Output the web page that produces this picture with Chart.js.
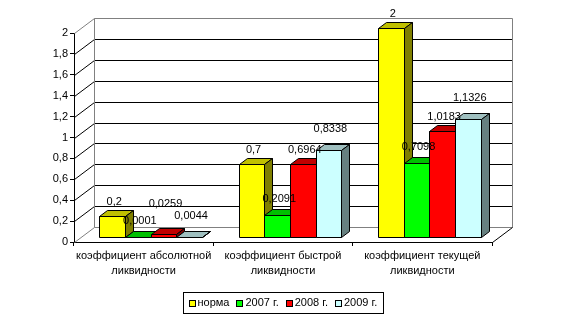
<!DOCTYPE html>
<html><head><meta charset="utf-8">
<script src="https://cdn.jsdelivr.net/npm/chart.js@4.4.1/dist/chart.umd.min.js"></script>
<style>html,body{margin:0;padding:0;background:#fff}#wrap{width:564px;height:325px;position:relative}</style>
</head><body><div id="wrap"><canvas id="c"></canvas></div>
<script>
const categories = [['коэффициент абсолютной','ликвидности'],['коэффициент быстрой','ликвидности'],['коэффициент текущей','ликвидности']];
const seriesNames = ['норма','2007 г.','2008 г.','2009 г.'];
const norma = [0.2, 0.7, 2];
const y2007 = [0.0001, 0.2091, 0.7098];
const y2008 = [0.0259, 0.6964, 1.0183];
const y2009 = [0.0044, 0.8338, 1.1326];
const yTickLabels = ['0','0,2','0,4','0,6','0,8','1','1,2','1,4','1,6','1,8','2'];

const FRONT = ['#FFFF00','#00FF00','#FF0000','#CCFFFF'];
const TOP   = ['#C0C000','#00C000','#C00000','#9FBFBF'];
const SIDE  = ['#808000','#008000','#800000','#668080'];
const LABEL_OFF = [14,16,14,21];
const WALL = {dx:20, dy:-15};
const SHIFT = {dx:7, dy:-5};
const DEPTH = {dx:8, dy:-6};
const FONT = "11px 'Liberation Sans', Arial, sans-serif";
Chart.defaults.font.family = "'Liberation Sans', Arial, sans-serif";
Chart.defaults.font.size = 11;
Chart.defaults.color = '#000';

const fmt = v => String(v).replace('.', ',');

function seg(ctx,x1,y1,x2,y2){ctx.beginPath();ctx.moveTo(x1,y1);ctx.lineTo(x2,y2);ctx.stroke();}
function poly(ctx,pts,fill){ctx.beginPath();ctx.moveTo(pts[0][0],pts[0][1]);for(let i=1;i<pts.length;i++)ctx.lineTo(pts[i][0],pts[i][1]);ctx.closePath();ctx.fillStyle=fill;ctx.fill();ctx.stroke();}

const p3d = {
  id:'p3d',
  beforeDatasetsDraw(chart){
    const ctx=chart.ctx, a=chart.chartArea, ys=chart.scales.y;
    ctx.save(); ctx.lineWidth=1;
    const L=Math.round(a.left)+0.5, R=Math.round(a.right)+0.5;
    ys.ticks.forEach((t,i)=>{
      const y=Math.round(ys.getPixelForValue(t.value))+0.5;
      const by=y+WALL.dy;
      const edge=(i===0||i===ys.ticks.length-1);
      ctx.strokeStyle=edge?'#808080':'#000';
      seg(ctx,L+WALL.dx,by,R+WALL.dx,by);
      seg(ctx,L,y,L+WALL.dx,by);
    });
    const T=Math.round(ys.getPixelForValue(2))+0.5+WALL.dy, B=Math.round(ys.getPixelForValue(0))+0.5+WALL.dy;
    ctx.strokeStyle='#808080';
    seg(ctx,L+WALL.dx,T,L+WALL.dx,B);
    seg(ctx,R+WALL.dx,T,R+WALL.dx,B);
    ctx.strokeStyle='#000';
    seg(ctx,R,Math.round(a.bottom)+0.5,R+WALL.dx,B);
    // bars
    chart.data.datasets.forEach((ds,di)=>{
      chart.getDatasetMeta(di).data.forEach(el=>{
        const p=el.getProps(['x','y','base','width'],true);
        const l=Math.round(p.x-p.width/2+SHIFT.dx)+0.5, r=Math.round(p.x+p.width/2+SHIFT.dx)+0.5;
        const t=Math.round(p.y+SHIFT.dy)+0.5, b=Math.round(p.base+SHIFT.dy)+0.5;
        ctx.strokeStyle='#000';
        poly(ctx,[[l,b],[l,t],[r,t],[r,b]],FRONT[di]);
        poly(ctx,[[l,t],[l+DEPTH.dx,t+DEPTH.dy],[r+DEPTH.dx,t+DEPTH.dy],[r,t]],TOP[di]);
        poly(ctx,[[r,t],[r+DEPTH.dx,t+DEPTH.dy],[r+DEPTH.dx,b+DEPTH.dy],[r,b]],SIDE[di]);
      });
    });
    ctx.restore();
    return false;
  },
  afterDraw(chart){
    const ctx=chart.ctx, a=chart.chartArea;
    ctx.save(); ctx.font=FONT; ctx.fillStyle='#000'; ctx.textAlign='center'; ctx.textBaseline='middle';
    const placed=[];
    chart.data.datasets.forEach((ds,di)=>{
      chart.getDatasetMeta(di).data.forEach((el,ci)=>{
        const p=el.getProps(['x','y'],true);
        const txt=fmt(ds.data[ci]);
        const w=ctx.measureText(txt).width, h=11;
        const cx=p.x+SHIFT.dx+2;
        let cy=p.y+SHIFT.dy-LABEL_OFF[di];
        let moved=true;
        while(moved){
          moved=false;
          for(const q of placed){
            if(q.ci===ci && Math.abs(q.cx-cx)<(q.w+w)/2 && Math.abs(q.cy-cy)<h){cy=q.cy-(h+6);moved=true;}
          }
        }
        placed.push({ci,cx,cy,w});
        ctx.fillText(txt,cx,cy);
      });
    });
    // legend
    const items=chart.data.datasets.map((ds,di)=>({t:ds.label,w:ctx.measureText(ds.label).width,c:FRONT[di]}));
    const mk=7,gap=2,sp=7,padL=5,padR=6;
    let total=padL+padR;
    items.forEach((it,i)=>{total+=mk+gap+it.w+(i<items.length-1?sp:0);});
    const cxm=(a.left+a.right)/2;
    const bx=Math.round(cxm-total/2)+0.5, by=292.5, bh=21;
    ctx.strokeStyle='#000'; ctx.lineWidth=1;
    ctx.strokeRect(bx,by,Math.round(total),bh);
    let x=bx+padL; const cy=by+bh/2;
    ctx.textAlign='left';
    items.forEach(it=>{
      ctx.fillStyle=it.c; ctx.fillRect(Math.round(x),Math.round(cy-3.5),mk,mk);
      ctx.strokeRect(Math.round(x)+0.5,Math.round(cy-3.5)+0.5,mk-1,mk-1);
      ctx.fillStyle='#000'; ctx.fillText(it.t,x+mk+gap,cy);
      x+=mk+gap+it.w+sp;
    });
    ctx.restore();
  }
};

const dsets=[norma,y2007,y2008,y2009].map((d,i)=>({label:seriesNames[i],data:d,backgroundColor:FRONT[i],categoryPercentage:0.735,barPercentage:1}));

new Chart(document.getElementById('c'),{
  type:'bar',
  data:{labels:categories,datasets:dsets},
  options:{
    responsive:true,maintainAspectRatio:false,animation:false,
    layout:{padding:{left:0,right:72,top:33,bottom:0}},
    plugins:{legend:{display:false},tooltip:{enabled:false}},
    scales:{
      x:{
        grid:{display:true,drawOnChartArea:false,drawTicks:true,tickLength:4,color:'#000',offset:true},
        border:{display:true,color:'#000'},
        ticks:{color:'#000',padding:2,font:{size:11,lineHeight:15/11},maxRotation:0,autoSkip:false},
        afterFit(s){s.height=83;}
      },
      y:{
        min:0,max:2,
        grid:{display:true,drawOnChartArea:false,drawTicks:true,tickLength:4,color:'#000'},
        border:{display:true,color:'#000'},
        ticks:{stepSize:0.2,color:'#000',padding:2,font:{size:11},callback:(v,i)=>yTickLabels[i]},
        afterFit(s){s.width=74;}
      }
    }
  },
  plugins:[p3d]
});
</script></body></html>
